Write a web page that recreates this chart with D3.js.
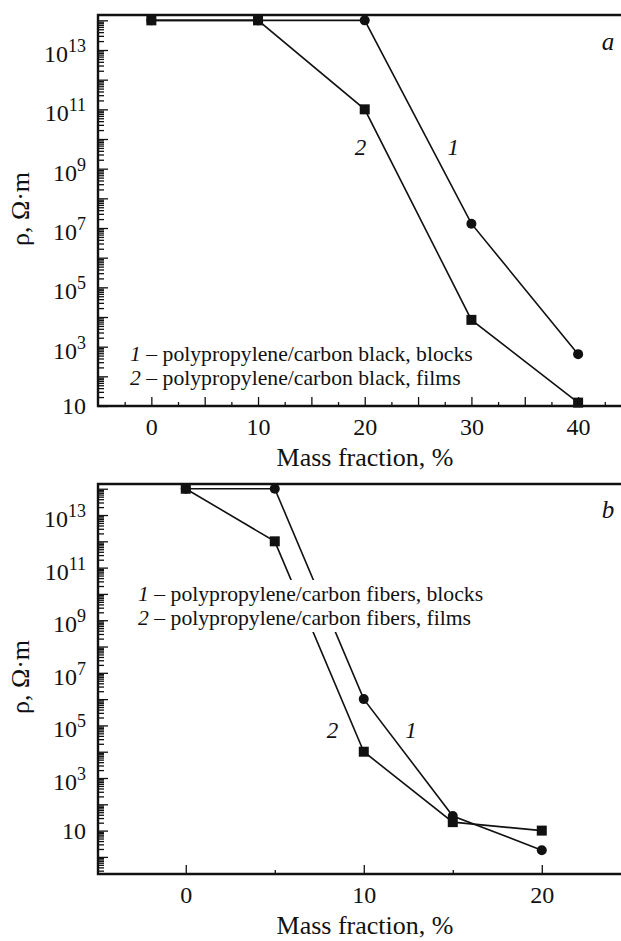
<!DOCTYPE html>
<html>
<head>
<meta charset="utf-8">
<script src="https://cdn.jsdelivr.net/npm/d3@7"></script>
<style>
  body { margin: 0; background: #fff; }
  svg, svg text { font-family: 'Liberation Serif', 'Times New Roman', Times, 'DejaVu Serif', serif !important; }
</style>
</head>
<body>
<div id="chart"></div>
<script>
// panel a: carbon black
const fractionA = [0, 10, 20, 30, 40]
const blocksA = [1e14, 1e14, 1e14, 1.4e7, 560]
const filmsA = [1e14, 1e14, 1e11, 8e3, 13]
const legendA = ['polypropylene/carbon black, blocks', 'polypropylene/carbon black, films']

// panel b: carbon fibers
const fractionB = [0, 5, 10, 15, 20]
const blocksB = [1e14, 1e14, 1e6, 36, 1.8]
const filmsB = [1e14, 1e12, 1e4, 21, 10]
const legendB = ['polypropylene/carbon fibers, blocks', 'polypropylene/carbon fibers, films']

// tick labels
const yLabelExp = [13, 11, 9, 7, 5, 3, 1]
const xLabelsA = [0, 10, 20, 30, 40]
const xLabelsB = [0, 10, 20]

const svg = d3.select('#chart')
  .append('svg')
  .attr('width', 621)
  .attr('height', 941)

function drawPanel (p) {
  const g = svg.append('g')

  const x = d3.scaleLinear().domain(p.xDomain).range([p.left, p.right])
  const y = d3.scaleLog().domain(p.yDomain).range([p.bottom, p.top])
  const inY = function (v) { return v >= p.yDomain[0] && v <= p.yDomain[1] }

  // log ticks, every decade plus 2..9
  const major = []
  const minor = []
  const lo = Math.floor(Math.log10(p.yDomain[0]))
  const hi = Math.ceil(Math.log10(p.yDomain[1]))
  for (let e = lo; e <= hi; e++) {
    major.push(Math.pow(10, e))
    for (let m = 2; m < 10; m++) minor.push(m * Math.pow(10, e))
  }

  const yMinor = g.append('g')
    .attr('transform', 'translate(' + p.left + ',0)')
    .call(d3.axisLeft(y).tickValues(minor.filter(inY)).tickSize(-6).tickSizeOuter(0).tickFormat(''))
  const yMajor = g.append('g')
    .attr('transform', 'translate(' + p.left + ',0)')
    .call(d3.axisLeft(y).tickValues(major.filter(inY)).tickSize(-10).tickSizeOuter(0).tickFormat(''))

  const xMinor = g.append('g')
    .attr('transform', 'translate(0,' + p.bottom + ')')
    .call(d3.axisBottom(x).tickValues(p.xMinor).tickSize(-4).tickSizeOuter(0).tickFormat(''))
  const xMajor = g.append('g')
    .attr('transform', 'translate(0,' + p.bottom + ')')
    .call(d3.axisBottom(x).tickValues(p.xMajor).tickSize(-9).tickSizeOuter(0).tickFormat(''))
  const xAxis = g.append('g')
    .attr('transform', 'translate(0,' + p.bottom + ')')
    .call(d3.axisBottom(x).tickValues(p.xLabels).tickSize(-9).tickSizeOuter(0).tickPadding(12).tickFormat(d3.format('d')))

  ;[yMinor, yMajor, xMinor, xMajor, xAxis].forEach(function (a) {
    a.attr('font-family', null)
    a.select('.domain').remove()
    a.selectAll('line').attr('stroke', '#111').attr('stroke-width', 1.3)
  })
  xAxis.selectAll('text')
    .attr('font-size', 24)
    .attr('fill', '#111')

  // frame: top, left, bottom
  g.append('path')
    .attr('d', 'M' + p.right + ',' + p.top + 'H' + p.left + 'V' + p.bottom + 'H' + p.right)
    .attr('fill', 'none')
    .attr('stroke', '#111')
    .attr('stroke-width', 2.4)

  // y tick labels 10^n
  yLabelExp.forEach(function (e) {
    const v = Math.pow(10, e)
    if (!inY(v)) return
    const t = g.append('text')
      .attr('x', p.left - 12)
      .attr('y', y(v) + (e === 1 ? 8 : 12))
      .attr('text-anchor', 'end')
      .attr('font-size', 24)
      .attr('fill', '#111')
    t.append('tspan').text('10')
    if (e !== 1) {
      t.append('tspan').attr('dy', -10).attr('font-size', 18).text(e)
    }
  })

  // legend (curves go underneath it, panel b gets a white box)
  const legend = g.append('g')
  p.legend.forEach(function (s, i) {
    const t = legend.append('text')
      .attr('x', p.legendX)
      .attr('y', p.legendY + i * 24)
      .attr('font-size', 21.7)
      .attr('fill', '#111')
    t.append('tspan').attr('font-style', 'italic').text(i + 1)
    t.append('tspan').text(' \u2013 ' + s)
  })

  const line = d3.line()
    .x(function (d) { return x(d[0]) })
    .y(function (d) { return y(d[1]) })

  const curves = g.insert('g', function () { return legend.node() })
  curves.append('path')
    .datum(d3.zip(p.fraction, p.blocks))
    .attr('fill', 'none')
    .attr('stroke', '#111')
    .attr('stroke-width', 1.6)
    .attr('d', line)
  curves.append('path')
    .datum(d3.zip(p.fraction, p.films))
    .attr('fill', 'none')
    .attr('stroke', '#111')
    .attr('stroke-width', 1.6)
    .attr('d', line)

  if (p.legendBox) {
    const bb = legend.node().getBBox()
    legend.insert('rect', 'text')
      .attr('x', bb.x - 2)
      .attr('y', bb.y - 2)
      .attr('width', bb.width + 4)
      .attr('height', bb.height + 4)
      .attr('fill', '#fff')
  }

  const marks = g.append('g')
  marks.selectAll('circle')
    .data(d3.zip(p.fraction, p.blocks))
    .enter()
    .append('circle')
    .attr('cx', function (d) { return x(d[0]) })
    .attr('cy', function (d) { return y(d[1]) })
    .attr('r', 5)
    .attr('fill', '#111')
  marks.selectAll('rect')
    .data(d3.zip(p.fraction, p.films))
    .enter()
    .append('rect')
    .attr('x', function (d) { return x(d[0]) - 5 })
    .attr('y', function (d) { return y(d[1]) - 5 })
    .attr('width', 10)
    .attr('height', 10)
    .attr('fill', '#111')

  // curve numbers
  p.curveLabels.forEach(function (c) {
    g.append('text')
      .attr('x', x(c[1]))
      .attr('y', y(c[2]))
      .attr('text-anchor', 'middle')
      .attr('font-size', 23)
      .attr('font-style', 'italic')
      .attr('fill', '#111')
      .text(c[0])
  })

  g.append('text')
    .attr('x', 608)
    .attr('y', p.top + p.letterDy)
    .attr('text-anchor', 'middle')
    .attr('font-size', 25)
    .attr('font-style', 'italic')
    .attr('fill', '#111')
    .text(p.letter)

  g.append('text')
    .attr('x', 365)
    .attr('y', p.bottom + 60)
    .attr('text-anchor', 'middle')
    .attr('font-size', 26)
    .attr('fill', '#111')
    .text('Mass fraction, %')

  g.append('text')
    .attr('transform', 'translate(29,' + p.yLabelMid + ') rotate(-90)')
    .attr('text-anchor', 'middle')
    .attr('font-size', 26)
    .attr('fill', '#111')
    .text('\u03c1, \u03a9\u00b7m')
}

drawPanel({
  left: 98,
  right: 621,
  top: 15,
  bottom: 406,
  xDomain: [-5, 44.02],
  yDomain: [10, Math.pow(10, 14.18)],
  xLabels: xLabelsA,
  xMajor: [5, 15, 25, 35],
  xMinor: d3.range(-2.5, 44, 5),
  fraction: fractionA,
  blocks: blocksA,
  films: filmsA,
  legend: legendA,
  legendX: 130,
  legendY: 361,
  legendBox: false,
  curveLabels: [['2', 19.6, Math.pow(10, 9.45)], ['1', 28.3, Math.pow(10, 9.45)]],
  letter: 'a',
  letterDy: 35,
  yLabelMid: 209
})

drawPanel({
  left: 98,
  right: 621,
  top: 484,
  bottom: 874,
  xDomain: [-4.93, 24.45],
  yDomain: [Math.pow(10, -0.65), Math.pow(10, 14.18)],
  xLabels: xLabelsB,
  xMajor: [],
  xMinor: [5, 15],
  fraction: fractionB,
  blocks: blocksB,
  films: filmsB,
  legend: legendB,
  legendX: 138,
  legendY: 601,
  legendBox: true,
  curveLabels: [['2', 8.25, Math.pow(10, 4.52)], ['1', 12.65, Math.pow(10, 4.52)]],
  letter: 'b',
  letterDy: 34,
  yLabelMid: 677
})
</script>
</body>
</html>
